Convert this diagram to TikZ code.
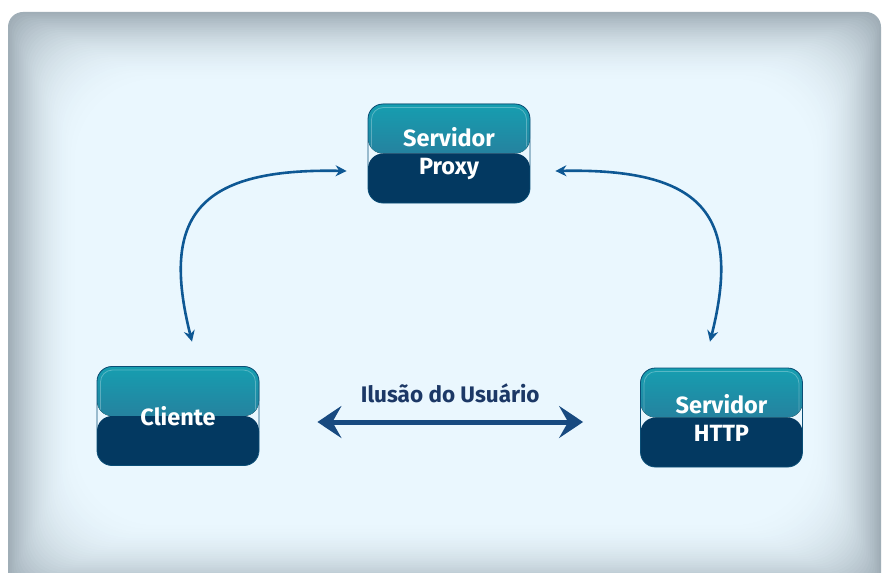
\documentclass[tikz,border=0pt]{standalone}
\usepackage{fontspec}
\setmainfont{Fira Sans}
\usetikzlibrary{arrows.meta,calc}

\definecolor{panelblue}{RGB}{234,247,254}
\definecolor{panelgrey}{RGB}{160,174,183}
\definecolor{boxteal}{RGB}{22,158,176}
\definecolor{boxmid}{RGB}{52,102,142}
\definecolor{boxnavy}{RGB}{3,57,97}
\definecolor{boxedge}{RGB}{10,78,118}
\definecolor{arrowblue}{RGB}{14,88,148}
\definecolor{wideblue}{RGB}{24,74,128}
\definecolor{labelnavy}{RGB}{28,56,102}

\tikzset{
  srvbox/.style={
    minimum width=162pt, minimum height=99pt, rounded corners=15pt,
    inner sep=0pt, align=center, text=white,
    font=\bfseries\fontsize{23.5}{28}\selectfont,
    draw=boxedge, line width=0.8pt,
    path picture={
      \fill[top color=boxteal, bottom color=boxmid]
        (path picture bounding box.north west) rectangle (path picture bounding box.east);
      \fill[boxnavy]
        (path picture bounding box.west) rectangle (path picture bounding box.south east);
      \begin{scope}
        \clip (path picture bounding box.north west)
          rectangle ([yshift=1pt]path picture bounding box.east);
        \draw[white, opacity=0.28, line width=0.8pt, rounded corners=12pt]
          ([shift={(3.5pt,-3.5pt)}]path picture bounding box.north west)
          rectangle ([shift={(-3.5pt,3.5pt)}]path picture bounding box.south east);
      \end{scope}
    }
  },
  curvearrow/.style={
    draw=arrowblue, line width=2.6pt,
    {Stealth[length=11pt,width=11pt]}-{Stealth[length=11pt,width=11pt]}
  },
  widearrow/.style={
    draw=wideblue, line width=5pt,
    {Stealth[length=24pt,width=32pt,inset=9pt]}-{Stealth[length=24pt,width=32pt,inset=9pt]}
  },
  arrowlabel/.style={
    text=labelnavy, font=\bfseries\fontsize{22.5}{27}\selectfont, inner sep=0pt
  }
}

\begin{document}
\begin{tikzpicture}[x=1pt,y=-1pt]
\useasboundingbox (0,0) rectangle (882,572);
\fill[white] (0,0) rectangle (882,572);

% panel with a soft grey rim fading into the light blue centre
\begin{scope}
  \clip (0,0) rectangle (882,572);
  \foreach \i in {0,...,40} {
    \pgfmathsetmacro\ins{\i*1.8}
    \pgfmathsetmacro\rad{15+\ins}
    \pgfmathsetmacro\mix{100*(1-\i/40)^2}
    \fill[panelgrey!\mix!panelblue, rounded corners=\rad pt]
      (8+\ins,12+\ins) rectangle (881-\ins,592-\ins);
  }
\end{scope}

% servers and client
\node[srvbox] (proxy)   at (449,153.5) {Servidor\\Proxy};
\node[srvbox] (cliente) at (178,416)   {Cliente};
\node[srvbox] (http)    at (721.5,417.5) {Servidor\\HTTP};

% curved links through the proxy
\draw[curvearrow] ($(proxy.west)+(-21,17.5)$)
  .. controls +(-147,-3) and +(-32,-127) .. ($(cliente.north)+(14,-24.5)$);
\draw[curvearrow] ($(proxy.east)+(25,17.5)$)
  .. controls +(147,-3) and +(32,-127) .. ($(http.north)+(-11.5,-26)$);

% direct link as perceived by the user
\coordinate (ua) at ($(cliente.east)+(58,6)$);
\coordinate (ub) at ($(ua -| http.west)+(-57,0)$);
\draw[widearrow] (ua) -- (ub);
\node[arrowlabel, anchor=base] (ilusao) at ($(ua)!0.5!(ub)+(0,-20)$) {Ilusão do Usuário};
\end{tikzpicture}
\end{document}
